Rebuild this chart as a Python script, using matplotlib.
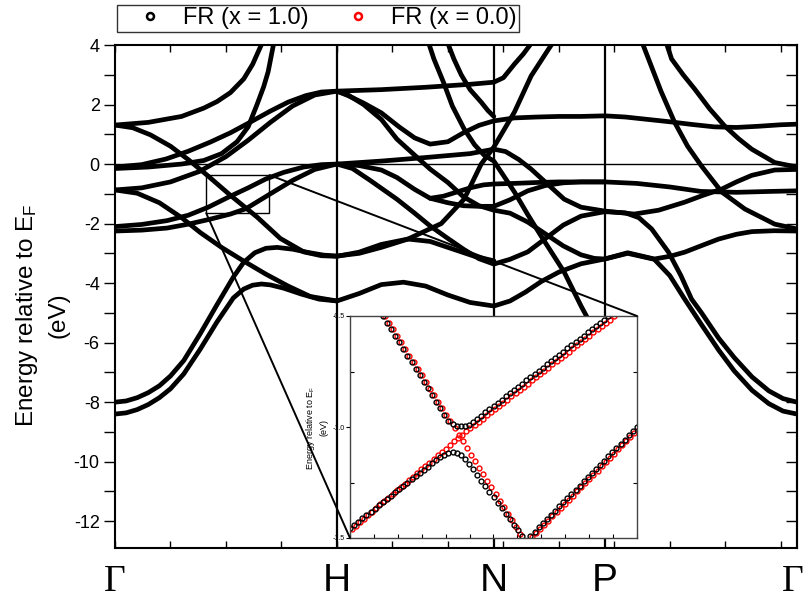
import numpy as np
import matplotlib
matplotlib.use("Agg")
import matplotlib.pyplot as plt
from matplotlib.patches import Rectangle, ConnectionPatch
from matplotlib.lines import Line2D
from matplotlib.transforms import blended_transform_factory

plt.rcParams['font.family'] = ['Liberation Sans', 'DejaVu Sans']
plt.rcParams['mathtext.default'] = 'regular'

# high symmetry points along the bcc path (2pi/a units)
kpt_labels = ["Γ", "H", "N", "P", "Γ"]
kpt_pos = [0.0, 1.0, 1.707, 2.207, 3.073]

# ---- main band structure (k, E in eV) ----
gh_a_k = [0, 0.15, 0.3, 0.4, 0.46, 0.52, 0.58, 0.62, 0.665]
gh_a_e = [1.31, 1.4, 1.6, 1.88, 2.1, 2.4, 2.86, 3.35, 4.1]

gh_b_k = [0, 0.08, 0.16, 0.25, 0.33, 0.416, 0.52, 0.64, 0.745, 0.85, 0.93, 1.0]
gh_b_e = [1.31, 1.22, 0.98, 0.6, 0.15, -0.38, -1.05, -1.78, -2.5, -2.95, -3.08, -3.1]

gh_c_k = [0, 0.15, 0.3, 0.4, 0.48, 0.55, 0.6, 0.64, 0.67, 0.69, 0.715]
gh_c_e = [-0.15, -0.1, 0.0, 0.12, 0.35, 0.75, 1.25, 2.0, 2.6, 3.1, 4.05]

gh_d_k = [0, 0.12, 0.23, 0.33, 0.43, 0.52, 0.61, 0.7, 0.78, 0.86, 0.93, 1.0,
          1.05, 1.12, 1.2, 1.28, 1.35, 1.42, 1.5, 1.57, 1.64, 1.707,
          1.8, 1.9, 2.0, 2.1, 2.207, 2.3, 2.4, 2.5, 2.6, 2.7, 2.8, 2.9, 3.0, 3.073]
gh_d_e = [-0.1, -0.02, 0.17, 0.43, 0.74, 1.05, 1.41, 1.78, 2.08, 2.3, 2.42, 2.45,
          2.3, 2.05, 1.72, 1.25, 0.88, 0.67, 0.75, 1.05, 1.3, 1.45,
          1.55, 1.58, 1.6, 1.6, 1.62, 1.58, 1.5, 1.42, 1.33, 1.25, 1.23, 1.27, 1.32, 1.34]

gh_e_k = [0, 0.12, 0.25, 0.38, 0.5, 0.6, 0.7, 0.8, 0.9, 1.0,
          1.2, 1.4, 1.6, 1.707, 1.75, 1.8, 1.84, 1.875]
gh_e_e = [-0.87, -0.8, -0.6, -0.25, 0.25, 0.8, 1.4, 1.95, 2.32, 2.45,
          2.5, 2.58, 2.68, 2.75, 2.9, 3.36, 3.7, 4.05]

gh_f_k = [0, 0.1, 0.2, 0.3, 0.384, 0.48, 0.58, 0.68, 0.78, 0.88, 1.0,
          1.1, 1.2, 1.3, 1.4, 1.5, 1.6, 1.707, 1.78, 1.85, 1.92, 2.0, 2.1, 2.207,
          2.31, 2.43, 2.5, 2.567, 2.643, 2.72, 2.79, 2.87, 2.946, 3.01, 3.073]
gh_f_e = [-0.87, -0.98, -1.3, -1.8, -2.3, -2.8, -3.26, -3.7, -4.1, -4.45, -4.6,
          -4.35, -4.05, -3.97, -4.1, -4.4, -4.65, -4.77, -4.6, -4.3, -3.95, -3.63, -3.35, -3.19,
          -3.0, -3.2, -3.75, -4.54, -5.4, -6.25, -6.95, -7.6, -8.05, -8.3, -8.4]

gh_g_k = [0, 0.12, 0.235, 0.33, 0.42, 0.52, 0.6, 0.68, 0.76, 0.85, 0.93, 1.0,
          1.2, 1.4, 1.6, 1.707, 1.76, 1.82, 1.875, 1.95, 2.024, 2.1, 2.207,
          2.34, 2.45, 2.567, 2.65, 2.734, 2.8, 2.869, 2.973, 3.073]
gh_g_e = [-2.1, -2.03, -1.9, -1.72, -1.45, -1.08, -0.8, -0.5, -0.28, -0.1, -0.02, 0.0,
          0.1, 0.22, 0.35, 0.5, 0.42, 0.15, -0.17, -0.68, -1.18, -1.45, -1.58,
          -1.68, -1.55, -1.28, -1.05, -0.84, -0.6, -0.38, -0.2, -0.18]

gh_h_k = [0, 0.12, 0.235, 0.33, 0.43, 0.52, 0.59, 0.7, 0.8, 0.9, 1.0,
          1.1, 1.2, 1.27, 1.35, 1.42, 1.5, 1.57, 1.64, 1.707,
          1.78, 1.86, 1.94, 2.02, 2.1, 2.207, 2.35, 2.5, 2.64, 2.8, 2.95, 3.073]
gh_h_e = [-2.25, -2.22, -2.15, -2.02, -1.85, -1.68, -1.5, -1.0, -0.55, -0.18, 0.0,
          -0.05, -0.2, -0.45, -0.85, -1.15, -1.3, -1.4, -1.42, -1.42,
          -1.2, -0.9, -0.72, -0.63, -0.6, -0.6, -0.65, -0.77, -0.92, -0.95, -0.92, -0.9]

gh_i_k = [0, 0.05, 0.1, 0.15, 0.2, 0.25, 0.31, 0.384, 0.46, 0.533, 0.58, 0.63, 0.68,
          0.73, 0.8, 0.87, 0.94, 1.0,
          1.1, 1.2, 1.32, 1.47, 1.573, 1.65, 1.707, 1.8, 1.875, 1.97]
gh_i_e = [-8.0, -7.96, -7.85, -7.68, -7.45, -7.12, -6.6, -5.7, -4.72, -3.8, -3.3, -2.98, -2.83,
          -2.8, -2.86, -2.97, -3.06, -3.09,
          -3.0, -2.8, -2.52, -2.0, -1.18, 0.0, 0.57, 1.75, 2.96, 4.05]

gh_j_k = [0, 0.05, 0.1, 0.15, 0.2, 0.25, 0.31, 0.384, 0.46, 0.533, 0.58, 0.62, 0.66,
          0.7, 0.76, 0.84, 0.92, 1.0]
gh_j_e = [-8.4, -8.36, -8.25, -8.08, -7.85, -7.55, -7.05, -6.22, -5.3, -4.5, -4.2, -4.07, -4.03,
          -4.06, -4.17, -4.37, -4.54, -4.6]

hn_a_k = [1.0, 1.05, 1.12, 1.2, 1.27, 1.35, 1.42, 1.5, 1.57, 1.64, 1.707,
          1.78, 1.86, 1.94, 2.02, 2.1, 2.16, 2.207,
          2.31, 2.43, 2.5, 2.567, 2.65, 2.72, 2.8, 2.87, 2.97, 3.073]
hn_a_e = [2.45, 2.32, 2.0, 1.5, 0.84, 0.3, -0.17, -0.62, -1.1, -1.4, -1.55,
          -1.65, -1.95, -2.35, -2.75, -3.05, -3.17, -3.19,
          -2.98, -3.19, -3.1, -2.96, -2.72, -2.52, -2.36, -2.27, -2.24, -2.25]

hn_b_k = [1.414, 1.437, 1.48, 1.52, 1.573, 1.62, 1.663, 1.707,
          1.75, 1.8, 1.86, 1.92, 1.97, 2.024, 2.1, 2.16, 2.207]
hn_b_e = [4.05, 3.53, 2.75, 1.95, 1.18, 0.65, 0.3, 0.1,
          -0.38, -0.94, -1.7, -2.42, -3.0, -3.63, -4.77, -5.6, -6.3]

hn_c_k = [1.5, 1.527, 1.56, 1.6, 1.65, 1.68, 1.707]
hn_c_e = [4.05, 3.53, 3.0, 2.5, 2.08, 1.8, 1.6]

hn_d_k = [1.0, 1.07, 1.15, 1.27, 1.35, 1.42, 1.5, 1.57, 1.64, 1.707,
          1.78, 1.86, 1.94, 2.02, 2.1, 2.207,
          2.3, 2.36, 2.418, 2.494, 2.55, 2.598, 2.643, 2.72, 2.79, 2.87, 2.946, 3.01, 3.073]
hn_d_e = [0.0, -0.15, -0.55, -1.18, -1.65, -2.08, -2.5, -2.86, -3.18, -3.36,
          -3.2, -2.95, -2.5, -2.05, -1.75, -1.6,
          -1.64, -1.8, -2.18, -2.96, -3.75, -4.54, -5.0, -5.85, -6.5, -7.15, -7.62, -7.88, -8.0]

hn_e_k = [1.0, 1.1, 1.2, 1.32, 1.42, 1.52, 1.62, 1.707]
hn_e_e = [-3.1, -2.96, -2.7, -2.52, -2.6, -2.85, -3.1, -3.25]

np_a_k = [1.42, 1.48, 1.54, 1.6, 1.66, 1.707, 1.8, 1.9, 2.0, 2.1, 2.207]
np_a_e = [-1.15, -1.08, -0.94, -0.8, -0.7, -0.67, -0.65, -0.62, -0.6, -0.6, -0.6]

pg_a_k = [2.377, 2.404, 2.46, 2.521, 2.58, 2.643, 2.734, 2.838, 2.973, 3.073]
pg_a_e = [4.05, 3.53, 2.45, 1.41, 0.6, -0.07, -0.94, -1.51, -2.02, -2.18]

pg_b_k = [2.485, 2.508, 2.56, 2.612, 2.68, 2.747, 2.81, 2.869, 2.973, 3.073]
pg_b_e = [4.05, 3.53, 3.0, 2.52, 1.85, 1.28, 0.85, 0.5, 0.05, -0.1]

bands = [(gh_a_k, gh_a_e), (gh_b_k, gh_b_e), (gh_c_k, gh_c_e), (gh_d_k, gh_d_e),
         (gh_e_k, gh_e_e), (gh_f_k, gh_f_e), (gh_g_k, gh_g_e), (gh_h_k, gh_h_e),
         (gh_i_k, gh_i_e), (gh_j_k, gh_j_e), (hn_a_k, hn_a_e), (hn_b_k, hn_b_e),
         (hn_c_k, hn_c_e), (hn_d_k, hn_d_e), (hn_e_k, hn_e_e), (np_a_k, np_a_e),
         (pg_a_k, pg_a_e), (pg_b_k, pg_b_e)]

# ---- inset: sampled points near the crossing, k step 0.004 ----
kstep = 0.004
# x = 1.0 (black)
blk_up_k0 = 0.452
blk_up_e = [-0.500, -0.530, -0.559, -0.589, -0.619, -0.648, -0.678, -0.708, -0.737, -0.767,
            -0.797, -0.826, -0.856, -0.886, -0.915, -0.945, -0.972, -0.988, -0.995, -0.997,
            -0.995, -0.990, -0.978, -0.963, -0.949, -0.934, -0.920, -0.906, -0.891, -0.877,
            -0.862, -0.848, -0.834, -0.819, -0.805, -0.790, -0.776, -0.762, -0.747, -0.733,
            -0.718, -0.704, -0.690, -0.675, -0.661, -0.646, -0.632, -0.618, -0.603, -0.589,
            -0.574, -0.560, -0.546, -0.531, -0.517, -0.502]
blk_lo_k0 = 0.420
blk_lo_e = [-1.455, -1.440, -1.426, -1.411, -1.397, -1.382, -1.368, -1.353, -1.338, -1.324,
            -1.309, -1.295, -1.280, -1.266, -1.251, -1.236, -1.222, -1.207, -1.193, -1.178,
            -1.164, -1.149, -1.136, -1.124, -1.116, -1.113, -1.116, -1.126, -1.143, -1.166,
            -1.191, -1.216, -1.241, -1.266, -1.291, -1.316, -1.341, -1.366, -1.391, -1.416,
            -1.441, -1.466, -1.491]
blk_3rd_k0 = 0.596
blk_3rd_e = [-1.490, -1.471, -1.452, -1.433, -1.415, -1.396, -1.377, -1.358, -1.339, -1.320,
             -1.302, -1.283, -1.264, -1.245, -1.226, -1.207, -1.189, -1.170, -1.151, -1.132,
             -1.113, -1.094, -1.075, -1.057, -1.038, -1.019, -1.000]
# x = 0.0 (red)
red_dn_k0 = 0.454
red_dn_e = [-0.500, -0.530, -0.559, -0.589, -0.619, -0.649, -0.678, -0.708, -0.738, -0.767,
            -0.797, -0.827, -0.856, -0.886, -0.916, -0.946, -0.975, -1.005, -1.035, -1.064,
            -1.094, -1.124, -1.153, -1.183, -1.213, -1.243, -1.272, -1.302, -1.332, -1.361,
            -1.391, -1.421, -1.450, -1.480]
red_upc_k0 = 0.4215
red_upc_e = [-1.460, -1.444, -1.428, -1.413, -1.397, -1.381, -1.365, -1.349, -1.334, -1.318,
             -1.302, -1.286, -1.270, -1.255, -1.239, -1.223, -1.207, -1.191, -1.176, -1.160,
             -1.144, -1.128, -1.112, -1.097, -1.081, -1.065, -1.049, -1.035, -1.020, -1.006,
             -0.992, -0.977, -0.963, -0.948, -0.934, -0.920, -0.905, -0.891, -0.877, -0.862,
             -0.848, -0.833, -0.819, -0.805, -0.790, -0.776, -0.761, -0.747, -0.733, -0.718,
             -0.704, -0.690, -0.675, -0.661, -0.646, -0.632, -0.618, -0.603, -0.589, -0.574,
             -0.560, -0.546, -0.531, -0.517, -0.502]
red_3rd_k0 = 0.5975
red_3rd_e = [-1.497, -1.478, -1.459, -1.440, -1.422, -1.403, -1.384, -1.365, -1.346, -1.327,
             -1.309, -1.290, -1.271, -1.252, -1.233, -1.214, -1.196, -1.177, -1.158, -1.139,
             -1.120, -1.101, -1.082, -1.064, -1.045, -1.026, -1.007]

black_series = [(blk_up_k0, blk_up_e), (blk_lo_k0, blk_lo_e), (blk_3rd_k0, blk_3rd_e)]
red_series = [(red_dn_k0, red_dn_e), (red_upc_k0, red_upc_e), (red_3rd_k0, red_3rd_e)]

W, H = 806, 601
fig = plt.figure(figsize=(W / 100, H / 100), dpi=100)

# main axes
ax = fig.add_axes([115 / W, 1 - 548 / H, 682 / W, 503 / H])
for k, e in bands:
    ax.plot(k, e, color='black', lw=3.4, solid_capstyle='round',
            solid_joinstyle='round', zorder=3)
ax.axhline(0, color='black', lw=1.0, zorder=2)
for kp in kpt_pos[1:-1]:
    ax.axvline(kp, color='black', lw=1.6, zorder=2)

ax.set_xlim(0, 3.073)
ax.set_ylim(-12.9, 4)
ax.set_xticks(np.arange(0, 3.07, 0.25))
ax.set_xticklabels([])
ax.tick_params(axis='x', direction='in', top=True, length=5, width=1)
yt = list(range(-12, 5))
ax.set_yticks(yt)
ax.set_yticklabels([str(v) if v % 2 == 0 else '' for v in yt])
ax.tick_params(axis='y', direction='out', length=8, width=1, labelsize=13, pad=3)
sec = ax.secondary_yaxis('right')
sec.set_yticks(yt)
sec.tick_params(direction='in', length=8, width=1, labelright=False)
for s in ax.spines.values():
    s.set_linewidth(1.5)
sec.spines['right'].set_linewidth(1.5)

# high symmetry point labels under the axis
trans = blended_transform_factory(ax.transData, ax.transAxes)
lab_y = -(599 - 548) / 503
for i, (lab, kp) in enumerate(zip(kpt_labels, kpt_pos)):
    if i == len(kpt_labels) - 1:
        kp = kp - 0.018  # keep the last Γ inside the canvas
    if lab == "Γ":
        ax.text(kp, lab_y, lab, transform=trans, ha='center', va='bottom',
                fontsize=27, family='Liberation Serif')
    else:
        ax.text(kp, lab_y, lab, transform=trans, ha='center', va='bottom',
                fontsize=28)

fig.text(42 / W, 1 - 315 / H, "Energy relative to E$_F$\n(eV)", rotation=90,
         ha='center', va='center', multialignment='center', fontsize=17.5,
         linespacing=1.45)

# zoom box on the main plot
box_k, box_e = 0.411, -1.65
ax.add_patch(Rectangle((box_k, box_e), 0.285, 1.28, fill=False, ec='black',
                       lw=1.0, zorder=4))

# inset
axins = fig.add_axes([350 / W, 1 - 538 / H, 287 / W, 222 / H])
axins.set_facecolor('white')
for k0, e in red_series:
    kk = k0 + kstep * np.arange(len(e))
    axins.plot(kk, e, ls='none', marker='o', ms=3.5, mfc='none', mec='red', mew=1.0)
for k0, e in black_series:
    kk = k0 + kstep * np.arange(len(e))
    axins.plot(kk, e, ls='none', marker='o', ms=3.5, mfc='none', mec='black', mew=1.0)
axins.set_xlim(0.42, 0.70)
axins.set_ylim(-1.5, -0.5)
axins.set_xticks(np.linspace(0.42, 0.70, 13))
axins.set_xticklabels([])
axins.tick_params(axis='x', direction='in', length=3, width=0.8)
axins.set_yticks([-1.5, -1.0, -0.5])
axins.set_yticklabels(['-1.5', '-1.0', '-0.5'])
axins.set_yticks([-1.25, -0.75], minor=True)
axins.tick_params(axis='y', which='major', direction='out', length=3, width=0.8,
                  labelsize=5, pad=1)
axins.tick_params(axis='y', which='minor', direction='in', length=3, width=0.8,
                  right=True)
for s in axins.spines.values():
    s.set_linewidth(1.0)
    s.set_color('#444444')

fig.text(316 / W, 1 - 428 / H, "Energy relative to E$_F$\n(eV)", rotation=90,
         ha='center', va='center', multialignment='center', fontsize=6.5,
         linespacing=1.4)

for xyA, xyB in [((box_k, box_e), (0, 0)), ((box_k + 0.285, box_e + 1.28), (1, 1))]:
    con = ConnectionPatch(xyA=xyA, coordsA=ax.transData, xyB=xyB,
                          coordsB=axins.transAxes, color='black', lw=1.4)
    fig.add_artist(con)

# legend
handles = [Line2D([], [], ls='none', marker='o', ms=5, mfc='none', mec='black', mew=1.8),
           Line2D([], [], ls='none', marker='o', ms=5, mfc='none', mec='red', mew=1.8)]
leg = fig.legend(handles, ['FR (x = 1.0)', 'FR (x = 0.0)'], loc='upper left',
                 bbox_to_anchor=(117 / W, 1 - 5 / H), ncol=2, frameon=True,
                 fancybox=False, edgecolor='black', fontsize=17, borderpad=0.1,
                 handlelength=2.6, handletextpad=0.1, columnspacing=0.8,
                 borderaxespad=0)
leg.get_frame().set_linewidth(1.0)

fig.savefig("out.png", dpi=100)
